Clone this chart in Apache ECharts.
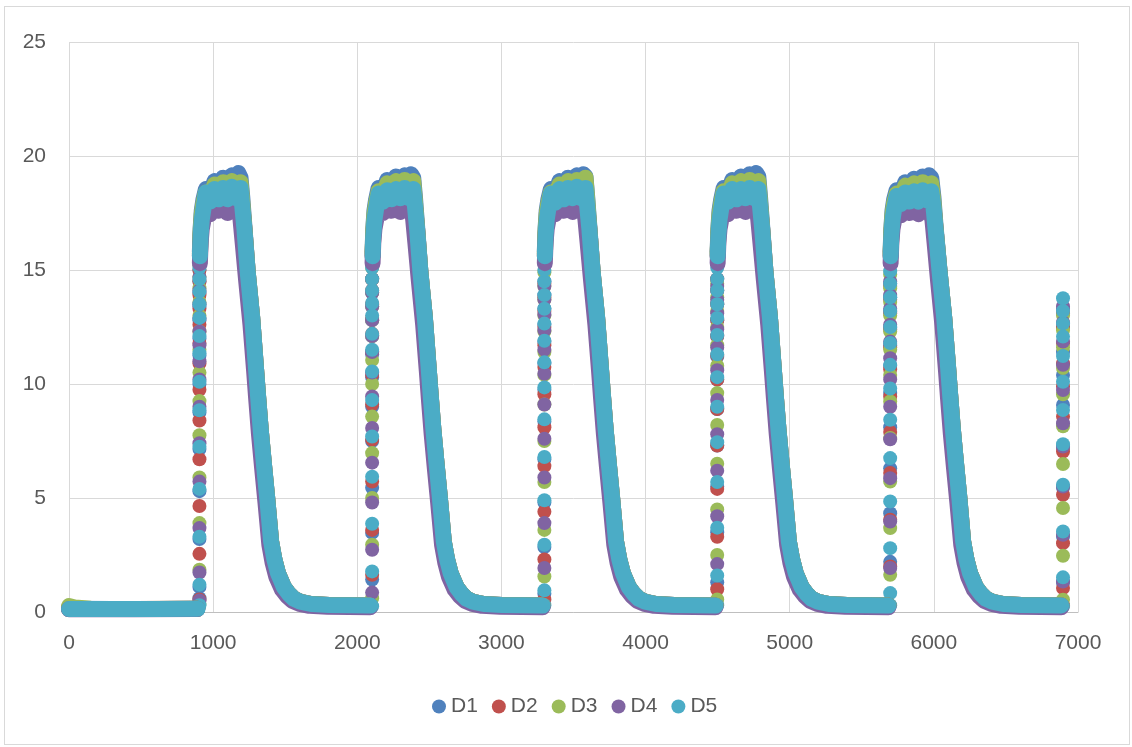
<!DOCTYPE html>
<html>
<head>
<meta charset="utf-8">
<script src="https://cdn.jsdelivr.net/npm/echarts@6/dist/echarts.min.js"></script>
<style>
  html, body { margin: 0; padding: 0; background: #ffffff; }
  #frame { position: absolute; left: 4px; top: 6px; width: 1126px; height: 739px; border: 1px solid #D9D9D9; box-sizing: border-box; }
  #chart { position: absolute; left: 0; top: 0; width: 1132px; height: 747px; }
</style>
</head>
<body>
<div id="frame"></div>
<div id="chart"></div>
<script>
// Five sensor traces D1..D5 over six heating cycles.
const seriesNames = ['D1', 'D2', 'D3', 'D4', 'D5'];
const seriesColors = ['#4F81BD', '#C0504D', '#9BBB59', '#8064A2', '#4BACC6'];

// x position of each steep rising edge
const riseX = [905, 2103, 3298, 4497, 5697, 6896];

// Samples taken on each rising edge (one list per cycle), drawn as separate dots
const d1Rise = [
  [0.6, 1.1, 3.2, 5.3, 7.15, 8.75, 10.0, 11.25, 12.0, 12.8, 13.4, 14.0, 14.5, 15.0],
  [1.42, 3.47, 5.45, 7.5, 9.0, 10.3, 11.3, 12.1, 12.8, 13.4, 14.0, 14.6],
  [0.8, 2.85, 4.8, 6.7, 8.35, 9.75, 10.9, 11.85, 12.6, 13.3, 13.9, 14.5],
  [1.3, 3.5, 5.5, 7.3, 8.9, 10.2, 11.2, 12.1, 12.8, 13.5, 14.1, 14.6],
  [2.2, 4.33, 6.3, 8.1, 9.6, 10.8, 11.7, 12.5, 13.2, 13.8, 14.4],
  [1.28, 3.3, 5.45, 7.2, 9.08, 10.4, 11.4, 12.5, 13.3]
];
const d2Rise = [
  [0.55, 2.55, 4.65, 6.7, 8.4, 9.75, 10.9, 11.8, 12.6, 13.3, 13.9, 14.5, 15.0],
  [1.63, 3.6, 5.72, 7.55, 9.1, 10.4, 11.4, 12.2, 12.9, 13.5, 14.1, 14.6],
  [0.55, 2.3, 4.4, 6.4, 8.1, 9.55, 10.75, 11.7, 12.5, 13.2, 13.8, 14.4],
  [1.0, 3.3, 5.4, 7.3, 8.9, 10.2, 11.25, 12.1, 12.8, 13.5, 14.1, 14.6],
  [2.0, 4.05, 6.1, 7.9, 9.45, 10.65, 11.6, 12.4, 13.1, 13.7, 14.3],
  [0.3, 1.05, 3.02, 5.14, 7.04, 8.57, 9.89, 10.9, 11.8, 12.5, 13.1]
];
const d3Rise = [
  [0.35, 1.85, 3.9, 5.9, 7.75, 9.25, 10.5, 11.5, 12.3, 13.0, 13.6, 14.2, 14.7, 15.2],
  [0.6, 2.95, 5.0, 6.97, 8.57, 10.0, 11.05, 12.1, 12.8, 13.4, 14.0, 14.6, 15.1],
  [1.56, 3.6, 5.7, 7.5, 9.1, 10.4, 11.4, 12.3, 13.0, 13.7, 14.3, 14.9],
  [0.55, 2.5, 4.5, 6.5, 8.2, 9.6, 10.8, 11.7, 12.5, 13.2, 13.8, 14.4],
  [1.63, 3.68, 5.72, 7.63, 9.23, 10.4, 11.5, 12.3, 13.0, 13.6, 14.2, 14.8],
  [0.54, 2.47, 4.56, 6.49, 8.15, 9.55, 10.7, 11.6, 12.35, 13.0]
];
const d4Rise = [
  [0.5, 1.73, 3.68, 5.72, 7.4, 9.0, 10.2, 11.0, 11.7, 12.3, 12.9, 13.5, 14.1, 14.7],
  [0.85, 2.73, 4.8, 6.55, 8.07, 9.45, 10.5, 11.4, 12.1, 12.8, 13.4, 14.0, 14.6],
  [1.93, 3.9, 5.9, 7.6, 9.1, 10.45, 11.5, 12.35, 13.05, 13.7, 14.3],
  [2.1, 4.2, 6.2, 7.8, 9.3, 10.6, 11.6, 12.4, 13.1, 13.7, 14.3],
  [1.93, 3.97, 5.87, 7.58, 9.0, 10.2, 11.13, 11.86, 12.6, 13.3, 13.9, 14.5],
  [1.34, 3.39, 5.5, 7.26, 8.28, 9.74, 10.84, 11.86, 12.7, 13.4]
];
const d5Rise = [
  [0.3, 1.2, 3.3, 5.4, 7.25, 8.85, 10.1, 11.35, 12.1, 12.9, 13.5, 14.05, 14.6, 15.1, 15.6],
  [0.25, 1.78, 3.87, 5.93, 7.7, 9.3, 10.55, 11.5, 12.2, 13.0, 13.55, 14.1, 14.6, 15.1, 15.6],
  [0.3, 0.95, 2.95, 4.9, 6.8, 8.45, 9.85, 10.95, 11.9, 12.65, 13.3, 13.9, 14.5, 15.0, 15.5],
  [0.3, 1.6, 3.7, 5.7, 7.45, 9.0, 10.3, 11.3, 12.15, 12.9, 13.5, 14.1, 14.6, 15.1, 15.6],
  [0.3, 0.83, 2.8, 4.85, 6.75, 8.43, 9.8, 10.84, 11.8, 12.5, 13.2, 13.8, 14.4, 14.95, 15.5],
  [0.25, 1.52, 3.53, 5.58, 7.36, 8.86, 10.1, 11.23, 12.08, 12.66, 13.2, 13.76]
];

// Densely sampled stretches (plateau, decay, idle baseline), one list per continuous run.
// On the plateaus the readings scatter between an upper and a lower level.
const d1Band = [
  [[0,0.14],[300,0.13],[600,0.13],[890,0.14]],
  [[908,15.8],[913,16.8],[921,17.6],[933,18.1],[950,18.55],[980,18.35],[1010,18.9],[1040,18.55],[1070,19.05],[1100,18.7],[1130,19.15],[1160,18.8],[1175,19.25],[1190,19.05],[1202,18.2],[1217,16.9],[1240,14.9],[1271,12.9],[1296,10.8],[1310,9.6],[1330,8.0],[1352,6.5],[1375,5.0],[1402,3.1],[1425,2.3],[1450,1.7],[1490,1.1],[1525,0.8],[1560,0.58],[1605,0.45],[1680,0.35],[1805,0.31],[1955,0.3],[2089,0.28]],
  [[2106,15.8],[2111,16.8],[2119,17.6],[2131,18.1],[2148,18.6],[2178,18.4],[2208,18.95],[2238,18.6],[2268,19.1],[2298,18.7],[2328,19.15],[2358,18.75],[2373,19.2],[2388,19.05],[2400,18.2],[2415,16.9],[2438,14.9],[2469,12.9],[2494,10.8],[2508,9.6],[2528,8.0],[2550,6.5],[2573,5.0],[2600,3.1],[2623,2.3],[2648,1.7],[2688,1.1],[2723,0.8],[2758,0.58],[2803,0.45],[2878,0.35],[3003,0.31],[3153,0.3],[3286,0.28]],
  [[3301,15.8],[3306,16.8],[3314,17.6],[3326,18.1],[3343,18.55],[3373,18.35],[3403,18.9],[3433,18.55],[3463,19.05],[3493,18.7],[3523,19.15],[3553,18.8],[3568,19.2],[3583,19.1],[3595,18.2],[3610,16.9],[3633,14.9],[3664,12.9],[3689,10.8],[3703,9.6],[3723,8.0],[3745,6.5],[3768,5.0],[3795,3.1],[3818,2.3],[3843,1.7],[3883,1.1],[3918,0.8],[3953,0.58],[3998,0.45],[4073,0.35],[4198,0.31],[4348,0.3],[4485,0.28]],
  [[4500,15.8],[4505,16.8],[4513,17.6],[4525,18.1],[4542,18.6],[4572,18.4],[4602,18.95],[4632,18.6],[4662,19.1],[4692,18.75],[4722,19.2],[4752,18.8],[4767,19.25],[4782,19.1],[4794,18.2],[4809,16.9],[4832,14.9],[4863,12.9],[4888,10.8],[4902,9.6],[4922,8.0],[4944,6.5],[4967,5.0],[4994,3.1],[5017,2.3],[5042,1.7],[5082,1.1],[5117,0.8],[5152,0.58],[5197,0.45],[5272,0.35],[5397,0.31],[5547,0.3],[5685,0.28]],
  [[5700,15.8],[5705,16.8],[5713,17.6],[5725,18.1],[5742,18.5],[5772,18.3],[5802,18.85],[5832,18.5],[5862,19.0],[5892,18.65],[5922,19.1],[5952,18.7],[5967,19.15],[5982,19.05],[5997,18.2],[6012,16.9],[6040,14.9],[6072,12.9],[6098,10.8],[6112,9.6],[6132,8.0],[6154,6.5],[6177,5.0],[6203,3.1],[6226,2.3],[6251,1.7],[6291,1.1],[6326,0.8],[6361,0.58],[6406,0.45],[6481,0.35],[6606,0.31],[6756,0.3],[6884,0.29]]
];
const d2Band = [
  [[0,0.13],[450,0.13],[890,0.14]],
  [[908,15.6],[913,16.5],[921,17.2],[933,17.7],[950,18.2],[1010,18.35],[1070,18.4],[1130,18.45],[1190,18.4],[1202,17.8],[1217,16.8],[1240,14.9],[1271,12.9],[1296,10.8],[1310,9.6],[1330,8.0],[1352,6.5],[1375,5.0],[1402,3.1],[1425,2.3],[1450,1.7],[1490,1.1],[1525,0.8],[1560,0.58],[1605,0.45],[1680,0.35],[1805,0.31],[1955,0.3],[2089,0.28]],
  [[2106,15.6],[2111,16.5],[2119,17.2],[2131,17.7],[2148,18.2],[2208,18.35],[2268,18.4],[2328,18.45],[2388,18.4],[2400,17.8],[2415,16.8],[2438,14.9],[2469,12.9],[2494,10.8],[2508,9.6],[2528,8.0],[2550,6.5],[2573,5.0],[2600,3.1],[2623,2.3],[2648,1.7],[2688,1.1],[2723,0.8],[2758,0.58],[2803,0.45],[2878,0.35],[3003,0.31],[3153,0.3],[3286,0.28]],
  [[3301,15.6],[3306,16.5],[3314,17.2],[3326,17.7],[3343,18.2],[3403,18.35],[3463,18.4],[3523,18.45],[3583,18.4],[3595,17.8],[3610,16.8],[3633,14.9],[3664,12.9],[3689,10.8],[3703,9.6],[3723,8.0],[3745,6.5],[3768,5.0],[3795,3.1],[3818,2.3],[3843,1.7],[3883,1.1],[3918,0.8],[3953,0.58],[3998,0.45],[4073,0.35],[4198,0.31],[4348,0.3],[4485,0.28]],
  [[4500,15.6],[4505,16.5],[4513,17.2],[4525,17.7],[4542,18.2],[4602,18.35],[4662,18.4],[4722,18.45],[4782,18.4],[4794,17.8],[4809,16.8],[4832,14.9],[4863,12.9],[4888,10.8],[4902,9.6],[4922,8.0],[4944,6.5],[4967,5.0],[4994,3.1],[5017,2.3],[5042,1.7],[5082,1.1],[5117,0.8],[5152,0.58],[5197,0.45],[5272,0.35],[5397,0.31],[5547,0.3],[5685,0.28]],
  [[5700,15.6],[5705,16.5],[5713,17.2],[5725,17.7],[5742,18.1],[5802,18.25],[5862,18.3],[5922,18.35],[5982,18.3],[5997,17.8],[6012,16.8],[6040,14.9],[6072,12.9],[6098,10.8],[6112,9.6],[6132,8.0],[6154,6.5],[6177,5.0],[6203,3.1],[6226,2.3],[6251,1.7],[6291,1.1],[6326,0.8],[6361,0.58],[6406,0.45],[6481,0.35],[6606,0.31],[6756,0.3],[6884,0.29]]
];
const d3Band = [
  [[0,0.26],[40,0.2],[150,0.14],[500,0.13],[890,0.14]],
  [[908,15.7],[913,16.7],[921,17.45],[933,17.95],[950,18.4],[980,18.1],[1010,18.75],[1040,18.4],[1070,18.85],[1100,18.45],[1130,18.9],[1160,18.5],[1190,18.85],[1202,18.0],[1217,16.8],[1240,14.9],[1271,12.9],[1296,10.8],[1310,9.6],[1330,8.0],[1352,6.5],[1375,5.0],[1402,3.1],[1425,2.3],[1450,1.7],[1490,1.1],[1525,0.8],[1560,0.58],[1605,0.45],[1680,0.35],[1805,0.31],[1955,0.3],[2089,0.28]],
  [[2106,15.7],[2111,16.7],[2119,17.45],[2131,17.95],[2148,18.45],[2178,18.15],[2208,18.8],[2238,18.45],[2268,18.9],[2298,18.5],[2328,18.95],[2358,18.55],[2388,18.9],[2400,18.0],[2415,16.8],[2438,14.9],[2469,12.9],[2494,10.8],[2508,9.6],[2528,8.0],[2550,6.5],[2573,5.0],[2600,3.1],[2623,2.3],[2648,1.7],[2688,1.1],[2723,0.8],[2758,0.58],[2803,0.45],[2878,0.35],[3003,0.31],[3153,0.3],[3286,0.28]],
  [[3301,15.7],[3306,16.7],[3314,17.45],[3326,17.95],[3343,18.4],[3373,18.1],[3403,18.75],[3433,18.4],[3463,18.9],[3493,18.5],[3523,18.95],[3553,18.6],[3583,19.05],[3595,18.1],[3610,16.8],[3633,14.9],[3664,12.9],[3689,10.8],[3703,9.6],[3723,8.0],[3745,6.5],[3768,5.0],[3795,3.1],[3818,2.3],[3843,1.7],[3883,1.1],[3918,0.8],[3953,0.58],[3998,0.45],[4073,0.35],[4198,0.31],[4348,0.3],[4485,0.28]],
  [[4500,15.7],[4505,16.7],[4513,17.45],[4525,17.95],[4542,18.45],[4572,18.15],[4602,18.8],[4632,18.45],[4662,18.9],[4692,18.5],[4722,18.95],[4752,18.55],[4782,18.9],[4794,18.0],[4809,16.8],[4832,14.9],[4863,12.9],[4888,10.8],[4902,9.6],[4922,8.0],[4944,6.5],[4967,5.0],[4994,3.1],[5017,2.3],[5042,1.7],[5082,1.1],[5117,0.8],[5152,0.58],[5197,0.45],[5272,0.35],[5397,0.31],[5547,0.3],[5685,0.28]],
  [[5700,15.7],[5705,16.7],[5713,17.45],[5725,17.95],[5742,18.35],[5772,18.05],[5802,18.7],[5832,18.35],[5862,18.8],[5892,18.4],[5922,18.85],[5952,18.45],[5982,18.8],[5997,18.0],[6012,16.8],[6040,14.9],[6072,12.9],[6098,10.8],[6112,9.6],[6132,8.0],[6154,6.5],[6177,5.0],[6203,3.1],[6226,2.3],[6251,1.7],[6291,1.1],[6326,0.8],[6361,0.58],[6406,0.45],[6481,0.35],[6606,0.31],[6756,0.3],[6884,0.29]]
];
const d4Band = [
  [[0,0.12],[450,0.12],[890,0.13]],
  [[908,15.3],[913,16.2],[921,16.8],[933,17.2],[950,17.7],[980,17.45],[1010,17.85],[1040,17.6],[1070,17.9],[1100,17.5],[1130,17.9],[1160,17.6],[1180,17.7],[1190,17.2],[1205,16.2],[1228,14.6],[1259,12.6],[1284,10.6],[1298,9.4],[1318,7.8],[1340,6.3],[1363,4.8],[1390,2.95],[1413,2.15],[1438,1.55],[1478,0.98],[1513,0.7],[1548,0.5],[1593,0.37],[1668,0.27],[1793,0.23],[1943,0.22],[2089,0.21]],
  [[2106,15.3],[2111,16.2],[2119,16.8],[2131,17.2],[2148,17.7],[2178,17.5],[2208,17.85],[2238,17.6],[2268,17.9],[2298,17.55],[2328,17.9],[2358,17.6],[2378,17.7],[2388,17.2],[2403,16.2],[2426,14.6],[2457,12.6],[2482,10.6],[2496,9.4],[2516,7.8],[2538,6.3],[2561,4.8],[2588,2.95],[2611,2.15],[2636,1.55],[2676,0.98],[2711,0.7],[2746,0.5],[2791,0.37],[2866,0.27],[2991,0.23],[3141,0.22],[3286,0.21]],
  [[3301,15.3],[3306,16.2],[3314,16.8],[3326,17.2],[3343,17.7],[3373,17.45],[3403,17.85],[3433,17.6],[3463,17.9],[3493,17.55],[3523,17.9],[3553,17.6],[3573,17.7],[3583,17.2],[3598,16.2],[3621,14.6],[3652,12.6],[3677,10.6],[3691,9.4],[3711,7.8],[3733,6.3],[3756,4.8],[3783,2.95],[3806,2.15],[3831,1.55],[3871,0.98],[3906,0.7],[3941,0.5],[3986,0.37],[4061,0.27],[4186,0.23],[4336,0.22],[4485,0.21]],
  [[4500,15.3],[4505,16.2],[4513,16.8],[4525,17.2],[4542,17.7],[4572,17.45],[4602,17.85],[4632,17.6],[4662,17.9],[4692,17.55],[4722,17.9],[4752,17.6],[4772,17.7],[4782,17.2],[4797,16.2],[4820,14.6],[4851,12.6],[4876,10.6],[4890,9.4],[4910,7.8],[4932,6.3],[4955,4.8],[4982,2.95],[5005,2.15],[5030,1.55],[5070,0.98],[5105,0.7],[5140,0.5],[5185,0.37],[5260,0.27],[5385,0.23],[5535,0.22],[5685,0.21]],
  [[5700,15.3],[5705,16.2],[5713,16.8],[5725,17.2],[5742,17.6],[5772,17.4],[5802,17.75],[5832,17.5],[5862,17.8],[5892,17.45],[5922,17.8],[5952,17.55],[5972,17.65],[5990,17.2],[6005,16.2],[6028,14.6],[6059,12.6],[6084,10.6],[6098,9.4],[6118,7.8],[6140,6.3],[6163,4.8],[6190,2.95],[6213,2.15],[6238,1.55],[6278,0.98],[6313,0.7],[6348,0.5],[6393,0.37],[6468,0.27],[6593,0.23],[6743,0.22],[6884,0.21]]
];
const d5Band = [
  [[0,0.13],[300,0.13],[600,0.13],[892,0.14]],
  [[908,15.6],[913,16.5],[921,17.2],[933,17.7],[950,18.4],[980,18.0],[1010,18.55],[1040,18.1],[1070,18.6],[1100,18.1],[1130,18.65],[1160,18.15],[1190,18.6],[1202,17.8],[1217,16.8],[1240,14.9],[1271,12.9],[1296,10.8],[1310,9.6],[1330,8.0],[1352,6.5],[1375,5.0],[1402,3.1],[1425,2.3],[1450,1.7],[1490,1.1],[1525,0.8],[1560,0.58],[1605,0.45],[1680,0.35],[1805,0.31],[1955,0.3],[2091,0.28]],
  [[2106,15.6],[2111,16.5],[2119,17.2],[2131,17.7],[2148,18.35],[2178,18.0],[2208,18.5],[2238,18.1],[2268,18.55],[2298,18.15],[2328,18.6],[2358,18.15],[2388,18.55],[2400,17.8],[2415,16.8],[2438,14.9],[2469,12.9],[2494,10.8],[2508,9.6],[2528,8.0],[2550,6.5],[2573,5.0],[2600,3.1],[2623,2.3],[2648,1.7],[2688,1.1],[2723,0.8],[2758,0.58],[2803,0.45],[2878,0.35],[3003,0.31],[3153,0.3],[3286,0.28]],
  [[3301,15.6],[3306,16.5],[3314,17.2],[3326,17.7],[3343,18.35],[3373,17.95],[3403,18.55],[3433,18.1],[3463,18.6],[3493,18.15],[3523,18.65],[3553,18.15],[3583,18.6],[3595,17.8],[3610,16.8],[3633,14.9],[3664,12.9],[3689,10.8],[3703,9.6],[3723,8.0],[3745,6.5],[3768,5.0],[3795,3.1],[3818,2.3],[3843,1.7],[3883,1.1],[3918,0.8],[3953,0.58],[3998,0.45],[4073,0.35],[4198,0.31],[4348,0.3],[4485,0.28]],
  [[4500,15.6],[4505,16.5],[4513,17.2],[4525,17.7],[4542,18.35],[4572,18.0],[4602,18.55],[4632,18.1],[4662,18.55],[4692,18.15],[4722,18.6],[4752,18.15],[4782,18.55],[4794,17.8],[4809,16.8],[4832,14.9],[4863,12.9],[4888,10.8],[4902,9.6],[4922,8.0],[4944,6.5],[4967,5.0],[4994,3.1],[5017,2.3],[5042,1.7],[5082,1.1],[5117,0.8],[5152,0.58],[5197,0.45],[5272,0.35],[5397,0.31],[5547,0.3],[5685,0.28]],
  [[5700,15.6],[5705,16.5],[5713,17.2],[5725,17.7],[5742,18.25],[5772,17.9],[5802,18.4],[5832,18.0],[5862,18.45],[5892,18.0],[5922,18.5],[5952,18.05],[5982,18.45],[5997,17.8],[6012,16.8],[6040,14.9],[6072,12.9],[6098,10.8],[6112,9.6],[6132,8.0],[6154,6.5],[6177,5.0],[6203,3.1],[6226,2.3],[6251,1.7],[6291,1.1],[6326,0.8],[6361,0.58],[6406,0.45],[6481,0.35],[6606,0.31],[6756,0.3],[6884,0.29]]
];

const bands = [d1Band, d2Band, d3Band, d4Band, d5Band];
const rises = [d1Rise, d2Rise, d3Rise, d4Rise, d5Rise];

const MARKER = 14;      // dot diameter, px
const BAND_WIDTH = 16;  // stroke of a densely sampled run, px
const LABEL_FONT = 'Liberation Sans, Arial, sans-serif';

const series = [];
seriesNames.forEach((name, i) => {
  const color = seriesColors[i];
  bands[i].forEach(run => {
    series.push({
      name, type: 'line', data: run,
      symbol: 'none', showSymbol: false, silent: true,
      itemStyle: { color },
      lineStyle: { color, width: BAND_WIDTH, cap: 'round', join: 'round' },
      emphasis: { disabled: true }
    });
  });
  series.push({
    name, type: 'scatter', symbol: 'circle', symbolSize: MARKER, silent: true,
    itemStyle: { color, opacity: 1 },
    emphasis: { disabled: true },
    data: rises[i].flatMap((vals, c) => vals.map(v => [riseX[c], v]))
  });
});

const chart = echarts.init(document.getElementById('chart'), null, { renderer: 'canvas' });
chart.setOption({
  animation: false,
  grid: { left: 69, right: 54, top: 42, bottom: 135 },
  xAxis: {
    type: 'value', min: 0, max: 7000, interval: 1000,
    axisLine: { show: true, lineStyle: { color: '#BFBFBF', width: 1 } },
    axisTick: { show: false },
    axisLabel: { color: '#595959', fontSize: 21, fontFamily: LABEL_FONT, margin: 21, formatter: v => String(v) },
    splitLine: { show: true, lineStyle: { color: '#D9D9D9', width: 1 } }
  },
  yAxis: {
    type: 'value', min: 0, max: 25, interval: 5,
    axisLine: { show: false },
    axisTick: { show: false },
    axisLabel: { color: '#595959', fontSize: 21, fontFamily: LABEL_FONT, margin: 23, formatter: v => String(v) },
    splitLine: { show: true, lineStyle: { color: '#D9D9D9', width: 1 } }
  },
  legend: {
    data: seriesNames.map(n => ({ name: n, icon: 'circle' })),
    left: 427, top: 691,
    itemWidth: 14, itemHeight: 14, itemGap: 14,
    textStyle: { color: '#595959', fontSize: 21, fontFamily: LABEL_FONT },
    selectedMode: false
  },
  series
});
</script>
</body>
</html>
